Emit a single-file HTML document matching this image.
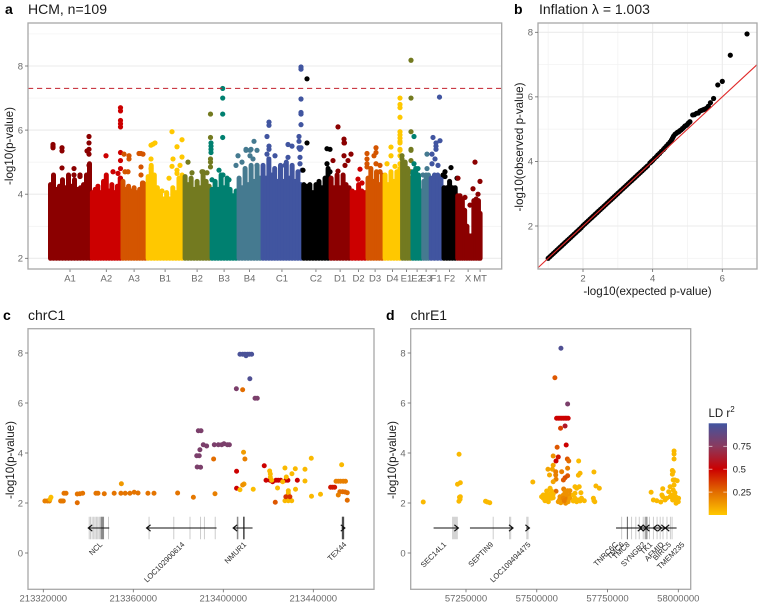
<!DOCTYPE html>
<html lang="en">
<head>
<meta charset="utf-8">
<title>HCM GWAS figure</title>
<style>
html,body{margin:0;padding:0;background:#fff;}
svg{display:block;font-family:"Liberation Sans",Arial,sans-serif;}
.tick-label{font-size:9.5px;fill:#6a6a6a;}
.axis-title{font-size:11.6px;fill:#1a1a1a;}
.panel-title{font-size:14px;fill:#1a1a1a;}
.panel-tag{font-size:14px;font-weight:bold;fill:#000;}
.gene-label{font-size:7.6px;fill:#2a2a2a;}
</style>
</head>
<body>
<svg id="fig" width="760" height="605" viewBox="0 0 760 605" xmlns="http://www.w3.org/2000/svg">
  <defs>
    <linearGradient id="ldGrad" x1="0" y1="1" x2="0" y2="0">
      <stop offset="0" stop-color="#ffc800"/>
      <stop offset="0.25" stop-color="#e26d00"/>
      <stop offset="0.5" stop-color="#cc0000"/>
      <stop offset="0.75" stop-color="#8a3a5e"/>
      <stop offset="1" stop-color="#4155a0"/>
    </linearGradient>
  </defs>
  <rect width="760" height="605" fill="#fff"/>

  <text class="panel-tag" x="5" y="14">a</text>
  <text class="panel-title" x="28" y="14">HCM, n=109</text>
  <text class="panel-tag" x="514" y="14">b</text>
  <text class="panel-title" x="539" y="14">Inflation λ = 1.003</text>
  <text class="panel-tag" x="3" y="320">c</text>
  <text class="panel-title" x="28" y="320">chrC1</text>
  <text class="panel-tag" x="386" y="320">d</text>
  <text class="panel-title" x="410.5" y="320">chrE1</text>

  <g id="panelA"></g>
  <g id="panelB"></g>
  <g id="panelC"></g>
  <g id="panelD"></g>

  <text class="axis-title" text-anchor="middle" transform="translate(13,146) rotate(-90)">-log10(p-value)</text>
  <text class="axis-title" text-anchor="middle" transform="translate(523,147) rotate(-90)">-log10(observed p-value)</text>
  <text class="axis-title" text-anchor="middle" x="647.5" y="295">-log10(expected p-value)</text>
  <text class="axis-title" text-anchor="middle" transform="translate(14,460) rotate(-90)">-log10(p-value)</text>
  <text class="axis-title" text-anchor="middle" transform="translate(396,460) rotate(-90)">-log10(p-value)</text>

  <g>
    <text x="708.5" y="417" font-size="11.5" fill="#1a1a1a">LD r<tspan dy="-5" font-size="8">2</tspan></text>
    <rect x="708.7" y="423.3" width="18.3" height="91.7" fill="url(#ldGrad)"/>
    <g id="legendTicks"></g>
  </g>
</svg>
<script>
// ---------- Panel a data ----------
var chromNames = ["A1","A2","A3","B1","B2","B3","B4","C1","C2","D1","D2","D3","D4","E1","E2","E3","F1","F2","X","MT"];
var chromLengths = [42,30.6,25,37,27,27,24,40.7,27.3,21,16,17,17.7,10.3,11,7,13,14,23,1];
var chromColors = ["#8b0000","#cc0000","#d45500","#ffc800","#737a20","#008070","#457a90","#4155a0","#000000","#8b0000","#cc0000","#d45500","#ffc800","#737a20","#008070","#457a90","#4155a0","#000000","#8b0000","#8b0000"];
var chromSkylines = [
 [4.3,4.6,4.15,4.25,4.45,4.2,4.6,4.25,4.45,4.15,4.2,4.3,4.6,4.95],
 [4.05,4.15,4.25,4.05,4.4,4.6,4.1,4.3,4.05,4.25,4.5],
 [4.4,4.15,4.25,4.1,4.2,4.05,4.15,4.35,4.3],
 [4.55,4.9,4.6,4.2,4.0,3.85,4.05,3.85,4.2,4.05,4.5,4.6],
 [4.55,4.3,4.5,4.15,4.4,4.2,4.7,4.4,4.25],
 [4.15,4.4,4.15,4.6,4.2,4.5,4.15,3.95,4.1],
 [4.5,4.2,4.8,4.3,4.9,4.4,4.9,4.5],
 [4.9,4.5,5.1,4.6,4.8,4.4,4.9,4.4,5.0,4.5,4.9,4.4,4.7,4.3],
 [4.3,4.25,4.3,4.05,4.3,4.4,4.2,4.5,4.8],
 [4.5,4.2,4.6,4.2,4.6,4.3,4.2],
 [4.1,4.05,4.3,4.1,4.05],
 [4.5,4.8,4.4,4.7,4.3,4.6],
 [4.6,4.3,4.7,4.4,4.7,4.8],
 [5.0,5.0,4.8,4.5],
 [4.7,4.8,4.6,4.1],
 [4.4,4.6,4.6],
 [4.5,4.6,4.6,4.5],
 [4.2,4.2,4.4,4.2,4.2],
 [3.95,3.95,3.85,3.5,3.0,2.7,2.7,3.8,3.85,3.8],
 [3.4]
];
var chromOutliers = [
 [[4,5.55],[4,5.45],[4,5.5],[13,5.45],[13,5.35],[13,4.82],[25,4.8],[25,4.6],[31,4.6],[31,4.55],[40,5.8],[40,5.6],[40,5.4],[40,5.25],[40,4.9],[38,5.35]],
 [[57,5.2],[64,4.7],[69,4.65],[71.5,6.7],[71.5,6.6],[71.5,6.3],[71.5,6.2],[71.5,6.1],[71.5,5.3],[71.5,5.05],[71.5,4.8],[71.5,4.5]],
 [[75,5.25],[80,5.2],[80,5.1],[90,5.27],[92,5.27],[94,5.25],[92,4.85],[92,4.6],[76,4.7],[79,4.7],[94,4.35]],
 [[102,5.53],[102,5.1],[102,4.8],[106,5.6],[104,5.56],[123,5.95],[124,5.1],[128,5.48],[123,4.87],[133,5.7],[133,5.16],[131,4.9],[128,4.75],[128,4.65],[120,4.5],[113,4.1]],
 [[139,5.0],[143,4.67],[153,4.7],[158,4.67],[161.5,6.5],[161.5,5.77],[161.5,5.1],[161.5,5.0],[161.5,4.85]],
 [[162,5.6],[162,5.5],[162,5.4],[162,5.3],[173.7,7.3],[173.7,7.0],[173.7,6.5],[173.7,5.77],[170,4.75],[174,4.6],[163,4.45],[180,4.45]],
 [[189,5.2],[187,4.9],[193,5.0],[197,5.4],[197,5.37],[201,5.37],[201,5.2],[205,5.65],[202,5.4],[208,5.37],[208,4.9],[204,5.1]],
 [[220,6.25],[220,6.15],[220,5.5],[220,5.4],[218,5.8],[218,5.25],[226,5.2],[239,5.55],[239,5.15],[243,5.5],[236,4.9],[252,7.97],[252,7.9],[252,6.97],[252,6.55],[252,6.5],[252,6.17],[252,5.45],[250,5.8],[250,5.65],[250,5.45],[251,5.4],[251,5.15],[251,4.95],[253,4.75]],
 [[258,7.6],[258,5.6],[278,5.42],[278,4.95],[281,5.4],[281,4.7],[254,4.75]],
 [[289,6.1],[289,4.72],[295,5.72],[295,5.6],[295.5,5.6],[295,5.2],[284,5.05],[302,5.25],[299,5.05],[296,4.9]],
 [[311,4.78],[309,4.47],[313,4.35]],
 [[327,5.45],[327,5.3],[327,4.95],[318,5.27],[318,5.1],[318,4.95],[318,4.85],[325,5.2],[331,4.9],[331,4.7]],
 [[342,5.47],[342,5.2],[338,4.95],[346,4.87],[351,7.0],[351,6.8],[351,6.7],[351,6.4],[351,5.95],[351,5.85],[351,5.75],[351,5.65],[351,5.6],[351,5.4],[351,5.37],[351,5.2],[351,4.95]],
 [[353,5.2],[353,5.1],[355,4.95],[355,4.75],[362,8.18],[362,7.0],[362,5.95],[362,5.4],[362,5.37],[362,5.05],[362,4.7]],
 [[365,5.8],[365,4.95],[365,4.55],[369,4.8]],
 [[378,5.25],[378,4.8],[374,4.6]],
 [[390.5,7.03],[384,5.77],[391,5.67],[387,5.5],[387,5.4],[387,5.6],[383,5.25],[383,4.95],[386,5.1],[389,4.9]],
 [[402,4.83],[396,4.7],[396,4.55],[408,4.5],[394,4.6]],
 [[409,4.5],[416,3.9],[426,5.0],[424,4.17],[429,4.0],[421,3.66]],
 [[431,4.4]]
];
var manhattanYTicks = [2,4,6,8];
var manhattanYMinor = [3,5,7,9];
var genomeWideThreshold = 7.3;

// ---------- Panel b data ----------
var qqExpected = [1.0,1.05,1.1,1.15,1.2,1.25,1.3,1.35,1.4,1.45,1.5,1.55,1.6,1.65,1.7,1.75,1.8,1.85,1.9,1.95,2.0,2.05,2.1,2.15,2.2,2.25,2.3,2.35,2.4,2.45,2.5,2.55,2.6,2.65,2.7,2.75,2.8,2.85,2.9,2.95,3.0,3.05,3.1,3.15,3.2,3.25,3.3,3.35,3.4,3.45,3.5,3.55,3.6,3.65,3.7,3.75,3.8,3.85,3.92,3.96,4.0,4.05,4.11,4.15,4.2,4.25,4.31,4.35,4.4,4.45,4.5,4.54,4.57,4.6,4.64,4.68,4.71,4.75,4.78,4.82,4.86,4.9,4.93,4.97,5.0,5.03,5.07,5.15,5.2,5.26,5.31,5.36,5.4,5.45,5.5,5.55,5.6,5.66,5.75,5.87,6.0,6.23,6.71];
var qqObserved = [1.0,1.05,1.1,1.15,1.2,1.25,1.3,1.35,1.4,1.45,1.5,1.55,1.6,1.65,1.7,1.75,1.8,1.85,1.9,1.95,2.01,2.06,2.11,2.16,2.21,2.26,2.31,2.36,2.41,2.46,2.51,2.56,2.61,2.66,2.71,2.76,2.81,2.86,2.91,2.96,3.01,3.06,3.11,3.16,3.21,3.26,3.31,3.36,3.41,3.46,3.51,3.56,3.61,3.66,3.71,3.76,3.81,3.86,3.95,3.99,4.03,4.09,4.15,4.2,4.25,4.31,4.37,4.42,4.48,4.54,4.6,4.66,4.72,4.78,4.84,4.87,4.9,4.92,4.95,4.98,5.02,5.06,5.1,5.12,5.15,5.19,5.23,5.44,5.45,5.49,5.5,5.56,5.58,5.6,5.62,5.65,5.71,5.82,5.95,6.37,6.48,7.29,7.95];
var qqXTicks = [2,4,6];
var qqXMinor = [1,3,5,7];
var qqYTicks = [2,4,6,8];
var qqYMinor = [1,3,5,7];
var qqLineDomain = [0.707,7];

// ---------- Panel c data: [position kb, -log10 p, LD r2] ----------
var chrC1Points = [
 [213320.7,2.08,.2],[213321.8,2.08,.2],[213322.7,2.08,.2],[213323,2.15,.05],[213323.4,2.23,.03],
 [213327.7,2.08,.22],[213328.3,2.08,.22],[213328.9,2.08,.22],[213329.2,2.39,.23],[213330.1,2.39,.23],
 [213335.1,2.01,.25],[213335.1,2.36,.23],[213336.3,2.37,.23],[213337.5,2.39,.23],[213343.4,2.39,.23],[213344.3,2.39,.23],
 [213347.1,2.37,.23],[213351.5,2.39,.23],[213354.5,2.39,.23],[213354.7,2.77,.13],[213356.4,2.39,.23],[213358.5,2.39,.23],
 [213360.4,2.43,.23],[213362.1,2.4,.23],[213366.5,2.39,.23],[213369.2,2.39,.23],[213379.7,2.4,.23],[213386.7,2.23,.22],
 [213388.9,4.89,.8],[213390.1,4.89,.8],[213391.1,4.33,.8],[213392.6,4.28,.8],[213389.6,4.13,.8],[213388.2,3.89,.8],[213389.3,3.89,.8],
 [213388.4,3.44,.8],[213389.9,3.43,.8],[213396,4.33,.8],[213397.8,4.33,.8],[213399.3,4.33,.8],[213400.3,4.37,.8],[213401.8,4.33,.8],[213402.7,4.33,.8],
 [213414.1,6.19,.8],[213415.1,6.19,.8],[213405.8,6.57,.8],
 [213408.6,6.53,.25],[213395.7,3.76,.25],[213396.3,2.37,.2],[213409,4.03,.12],[213409.6,3.76,.2],
 [213405.9,3.27,.5],[213405.9,2.59,.5],[213407.4,2.53,.03],[213409.2,2.76,.12],[213408.6,2.72,.15],[213413.3,2.55,.03],
 [213407.4,7.95,.97],[213408.6,7.95,.97],[213409.6,7.95,.97],[213410.7,7.95,.97],[213411.6,7.95,.97],[213412.6,7.95,.97],[213410.1,7.89,.97],[213411.8,6.97,.95],
 [213418.2,3.49,.5],[213419,2.91,.5],[213420.7,2.91,.5],[213421.9,2.85,.5],[213423.4,2.91,.5],[213424.4,2.91,.5],[213425.5,2.91,.5],[213427.8,2.91,.5],[213428.7,2.91,.5],[213432.9,2.91,.5],
 [213420.6,3.28,.04],[213420.9,3.16,.04],[213420.9,3.03,.04],[213421.5,2.91,.04],[213426.4,2.85,.04],[213427.4,3.4,.04],[213428,3.04,.04],[213430.5,3.17,.04],[213432,3.37,.04],
 [213436.3,3.35,.04],[213436.3,2.88,.04],[213439.1,3.79,.04],[213424.1,2.6,.04],[213432.1,2.55,.04],[213428.9,2.49,.04],[213428.9,2.39,.04],[213439.2,2.27,.04],[213443.2,2.35,.04],
 [213427.4,2.09,.04],[213428.9,2.09,.04],[213430.4,2.09,.04],[213428.1,2.12,.04],[213429.6,2.12,.04],
 [213423.1,2.03,.3],[213427.8,2.25,.38],[213429.6,2.25,.38],[213452.6,3.53,.04],
 [213450.1,2.87,.2],[213451.1,2.87,.2],[213452.1,2.87,.2],[213453.3,2.87,.2],[213454.3,2.87,.2],
 [213447.7,2.63,.45],[213448.6,2.63,.45],[213449.5,2.63,.45],
 [213451.8,2.45,.25],[213453,2.45,.25],[213454.1,2.44,.25],[213455.1,2.41,.25],[213451.1,2.32,.2],[213455.1,2.11,.25]
];
var chrC1XTicks = [213320,213360,213400,213440];
var chrC1Genes = [
 {name:"NCL",start:213340,end:213349.3,strand:-1,label:213346.5,exons:[213340.4,213341,213341.7,213342.4,213343,213343.6,213344.2,213344.8,213345.3,213345.6,213345.9,213345.9,213346.2,213346.2,213346.5,213346.5,213346.8,213346.8,213349]},
 {name:"LOC102900614",start:213365.9,end:213397,strand:-1,label:213383,exons:[213367,213378,213385.2,213389.9,213391.6,213396.4]},
 {name:"NMUR1",start:213404.4,end:213413,strand:-1,label:213410.4,exons:[213406.2,213406.5,213406.2,213406.5,213409,213409,213409.3,213409.3,213409,213409.3,213409,213409.3]},
 {name:"TEX44",start:213452.6,end:213454,strand:1,label:213455,exons:[213452.9,213452.9,213452.9,213452.9,213453.2,213453.2,213453.2,213453.2,213453.5,213453.5,213453.5,213453.5]}
];

// ---------- Panel d data: [position kb, -log10 p, LD r2] ----------
var chrE1Points = [
 [57099,2.04,.04],[57225.5,3.95,.04],[57220,2.75,.04],[57230,2.81,.04],[57227,2.23,.04],[57229,2.15,.04],[57225,2.07,.04],[57230,2.25,.04],
 [57319,2.07,.04],[57325,2.04,.04],[57334,2.01,.04],[57486,2.84,.05],
 [57585.4,8.19,.95],[57564,7.01,.3],[57609,5.96,.8],
 [57570,5.39,.5],[57576,5.39,.5],[57582,5.39,.5],[57588,5.39,.5],[57594,5.39,.5],[57600,5.39,.5],[57605,5.39,.5],[57611,5.39,.5],
 [57584,4.99,.35],[57600,5.08,.6],[57604,4.32,.5],[57572,4.23,.3],[57558,3.88,.15],[57576,3.84,.45],[57568,3.68,.5],[57608,3.76,.3],[57613,3.68,.25],
 [57648,3.68,.03],[57558,3.51,.1],[57539.5,3.35,.1],[57555,3.35,.1],[57567,3.25,.2],[57588,3.25,.2],[57609,3.39,.2],[57702,3.24,.04],[57545,3.12,.08],[57567,3.12,.2],
 [57609,3.09,.3],[57600,3.01,.32],[57594,2.92,.3],[57568,2.95,.2],[57558,2.85,.1],[57653,3.19,.05],[57647,3.11,.05],[57709,2.68,.05],[57721,2.59,.05],
 [57635,2.65,.04],[57650,2.65,.04],[57641,2.59,.04],[57595,2.56,.2],[57609,2.49,.15],[57617,2.49,.15],[57568,2.47,.25],[57600,2.45,.15],
 [57547,2.59,.04],[57535,2.48,.04],[57552,2.48,.04],[57523,2.32,.04],[57535,2.35,.04],[57547,2.35,.04],[57558,2.35,.04],[57517,2.25,.04],[57529,2.21,.04],[57541,2.19,.04],[57552,2.19,.04],
 [57529,2.09,.04],[57541,2.05,.04],[57523,2.19,.04],[57558,2.21,.04],
 [57582,2.25,.15],[57580,2.12,.15],[57576,2.05,.12],[57594,2.32,.15],[57605,2.32,.15],[57617,2.32,.15],[57594,2.19,.18],[57605,2.15,.2],[57617,2.19,.12],[57585,2.01,.12],[57602,1.99,.15],[57611,2.05,.12],[57597,2.09,.2],
 [57629,2.32,.04],[57635,2.39,.04],[57656,2.41,.04],[57635,2.19,.04],[57647,2.12,.04],[57658,2.19,.04],[57668,2.09,.04],[57629,2.08,.04],[57641,2.05,.04],[57653,2.08,.04],
 [57700,2.19,.04],[57705,2.05,.04],[57702,2.09,.04],
 [57985,4.08,.04],[57985,3.96,.04],[57985,3.76,.04],[57982,3.25,.04],[57979,3.3,.04],[57979,3.15,.04],[57982,2.92,.04],[57996,2.89,.04],[57988,2.92,.04],
 [57945,2.57,.04],[57904,2.43,.04],[57971,2.65,.04],[57985,2.72,.04],[57982,2.52,.04],[57966,2.45,.04],[57945,2.25,.04],[57942,2.32,.04],[57959,2.19,.04],[57912,2.12,.04],[57924,2.09,.04],[57938,2.04,.04],
 [57953,2.12,.04],[57971,2.25,.04],[57982,2.25,.04],[57991,2.25,.04],[57996,2.15,.04],[57988,2.12,.04],[58000,2.05,.04],[57992,1.99,.04],[57976,2.32,.04],[58001,2.19,.04],[57988,2.41,.04],[57980,2.12,.04]
];
var chrE1XTicks = [57250,57500,57750,58000];
var chrE1Genes = [
 {name:"SEC14L1",start:57135.5,end:57223,strand:1,label:57182,exons:[57203,57207,57211,57215,57219]},
 {name:"SEPTIN9",start:57264,end:57416,strand:1,label:57348,exons:[57346,57404,57408]},
 {name:"LOC109494475",start:57462.6,end:57474,strand:1,label:57480,exons:[57465,57469]},
 {name:"TNRC6C",start:57780.5,end:57871,strand:1,label:57788.7,exons:[57800,57820,57820,57820,57820]},
 {name:"TMC6",start:57871,end:57864,strand:-1,label:57810,exons:[57835,57850]},
 {name:"TMC8",start:57864,end:57888,strand:1,label:57830,exons:[57862,57876]},
 {name:"SYNGR2",start:57890,end:57884,strand:-1,label:57886,exons:[57882,57885,57888,57891,57885,57888]},
 {name:"TK1",start:57912,end:57918,strand:-1,label:57910,exons:[57898,57912]},
 {name:"AFMID",start:57924,end:57941,strand:1,label:57950.8,exons:[57925,57936]},
 {name:"BIRC5",start:57941,end:57954,strand:1,label:57976.6,exons:[57946,57960]},
 {name:"TMEM235",start:57954,end:57980,strand:-1,label:58023.5,exons:[57972,57978]}
];
var chrE1TrackEnds = [57780.5,57994];
var ldStopValues = [0,0.25,0.5,0.75,1];
var ldStopColors = [[255,200,0],[226,109,0],[204,0,0],[138,58,94],[65,85,160]];
var localYTicks = [0,2,4,6,8];
var legendTicks = [0.25,0.5,0.75];

// ---------- helpers ----------
var NS = "http://www.w3.org/2000/svg";
function linear(d, r){ return function(v){ return r[0] + (v - d[0]) * (r[1] - r[0]) / (d[1] - d[0]); }; }
function make(parent, tag, attrs, text){
  var e = document.createElementNS(NS, tag);
  for (var k in attrs) e.setAttribute(k, attrs[k]);
  if (text !== undefined) e.textContent = text;
  parent.appendChild(e);
  return e;
}
function ldColor(v){
  for (var i = 1; i < ldStopValues.length; i++){
    if (v <= ldStopValues[i]){
      var t = (v - ldStopValues[i-1]) / (ldStopValues[i] - ldStopValues[i-1]);
      var a = ldStopColors[i-1], b = ldStopColors[i];
      return "rgb(" + Math.round(a[0]+(b[0]-a[0])*t) + "," + Math.round(a[1]+(b[1]-a[1])*t) + "," + Math.round(a[2]+(b[2]-a[2])*t) + ")";
    }
  }
  return "rgb(65,85,160)";
}
var BORDER = "#a8a8a8", TICK = "#666", GRID = "#ebebeb";

function frame(g, box){
  var f = make(g, "rect", {x:box.l, y:box.t, width:box.r-box.l, height:box.b-box.t, fill:"none", stroke:BORDER, "stroke-width":1.3});
  
  
}
function yAxis(g, box, scale, ticks){
  ticks.forEach(function(v){
    var t = make(g, "line", {x1:box.l-3, x2:box.l, y1:scale(v), y2:scale(v), stroke:TICK, "stroke-width":0.8});
    
    
    var l = make(g, "text", {"class":"tick-label", x:box.l-5, y:scale(v)+3.3, "text-anchor":"end"}, String(v));
    
    
  });
}
function xAxis(g, box, scale, ticks, fmt){
  ticks.forEach(function(v){
    var t = make(g, "line", {x1:scale(v), x2:scale(v), y1:box.b, y2:box.b+3, stroke:TICK, "stroke-width":0.8});
    
    
    var l = make(g, "text", {"class":"tick-label", x:scale(v), y:box.b+12.3, "text-anchor":"middle"}, fmt(v));
    
    
  });
}

// ---------- Panel a ----------
(function(){
  var g = document.getElementById("panelA");
  var box = {l:28, r:501.7, t:23, b:269};
  var x = linear([0,432], [49,481]);
  var y = linear([2,8], [258.3,66]);
  manhattanYMinor.forEach(function(v){
    var m = make(g, "line", {x1:box.l, x2:box.r, y1:y(v), y2:y(v), stroke:"#f1f1f1", "stroke-width":0.7});
    
    
  });
  manhattanYTicks.forEach(function(v){
    var m = make(g, "line", {x1:box.l, x2:box.r, y1:y(v), y2:y(v), stroke:GRID, "stroke-width":1.1});
    
    
  });
  var cum = 0;
  chromNames.forEach(function(name, i){
    var len = chromLengths[i], sky = chromSkylines[i], col = chromColors[i];
    var chr = make(g, "g", {});
    
    
    sky.forEach(function(h, k){
      var px = x(cum + (k + 0.5) / sky.length * len);
      var c = make(chr, "line", {x1:px, x2:px, y1:y(2), y2:y(h), stroke:col, "stroke-width":5, "stroke-linecap":"round"});
      
      
    });
    chromOutliers[i].forEach(function(p){
      var c = make(chr, "circle", {cx:x(p[0]), cy:y(p[1]), r:2.6, fill:col});
      
      
    });
    var mid = cum + len / 2;
    var t = make(g, "line", {x1:x(mid), x2:x(mid), y1:box.b, y2:box.b+3, stroke:TICK, "stroke-width":0.8});
    
    
    var l = make(g, "text", {"class":"tick-label", x:x(mid), y:box.b+12.5, "text-anchor":"middle"}, name);
    
    
    cum += len;
  });
  var th = make(g, "line", {x1:box.l, x2:box.r, y1:y(genomeWideThreshold), y2:y(genomeWideThreshold), stroke:"#c2202c", "stroke-width":1, "stroke-dasharray":"5.2 3.8"});
  
  
  frame(g, box);
  yAxis(g, box, y, manhattanYTicks);
})();

// ---------- Panel b ----------
(function(){
  var g = document.getElementById("panelB");
  var box = {l:538, r:757, t:23, b:269};
  var x = linear([2,6], [583,722.3]);
  var y = linear([2,8], [226,32.3]);
  qqXMinor.forEach(function(v){
    var m = make(g, "line", {x1:x(v), x2:x(v), y1:box.t, y2:box.b, stroke:"#f1f1f1", "stroke-width":0.7});
    
    
  });
  qqYMinor.forEach(function(v){
    var m = make(g, "line", {x1:box.l, x2:box.r, y1:y(v), y2:y(v), stroke:"#f1f1f1", "stroke-width":0.7});
    
    
  });
  qqXTicks.forEach(function(v){
    var m = make(g, "line", {x1:x(v), x2:x(v), y1:box.t, y2:box.b, stroke:GRID, "stroke-width":1.1});
    
    
  });
  qqYTicks.forEach(function(v){
    var m = make(g, "line", {x1:box.l, x2:box.r, y1:y(v), y2:y(v), stroke:GRID, "stroke-width":1.1});
    
    
  });
  qqExpected.forEach(function(v, i){
    var c = make(g, "circle", {cx:x(v), cy:y(qqObserved[i]), r:2.6, fill:"#000"});
    
    
  });
  var ln = make(g, "line", {x1:x(qqLineDomain[0]), y1:y(qqLineDomain[0]), x2:x(qqLineDomain[1]), y2:y(qqLineDomain[1]), stroke:"#e02a2a", "stroke-width":1.1});
  
  
  frame(g, box);
  yAxis(g, box, y, qqYTicks);
  xAxis(g, box, x, qqXTicks, String);
})();

// ---------- Panels c & d ----------
function drawRegion(g, box, x, points, genes, xTicks, trackEnds){
  var y = linear([0,8], [553,353]);
  points.forEach(function(p){
    var c = make(g, "circle", {cx:x(p[0]), cy:y(p[1]), r:2.5, fill:ldColor(p[2])});
    
    
  });
  if (trackEnds){
    var tr = make(g, "line", {x1:x(trackEnds[0]), x2:x(trackEnds[1]), y1:y(1), y2:y(1), stroke:"#111", "stroke-width":1});
    
    
  }
  genes.forEach(function(gene){
    var gg = make(g, "g", {});
    
    
    gene.exons.forEach(function(ex){
      var r = make(gg, "rect", {x:x(ex)-0.45, width:0.9, y:y(1.45), height:y(0.55)-y(1.45), fill:"#000", opacity:0.22});
      
      
    });
    var line = make(gg, "line", {x1:x(gene.start), x2:x(gene.end), y1:y(1), y2:y(1), stroke:"#111", "stroke-width":1});
    
    
    var tip = gene.strand > 0 ? x(Math.max(gene.start, gene.end)) : x(Math.min(gene.start, gene.end));
    var arm = gene.strand > 0 ? -4 : 4;
    var arrow = make(gg, "polyline", {points:(tip+arm)+","+(y(1)-3.2)+" "+tip+","+y(1)+" "+(tip+arm)+","+(y(1)+3.2), fill:"none", stroke:"#111", "stroke-width":1.2});
    
    
    var lx = x(gene.label);
    var t = make(gg, "text", {"class":"gene-label", "text-anchor":"end", transform:"translate("+lx+",545) rotate(-45)"}, gene.name);
    
    
  });
  frame(g, box);
  yAxis(g, box, y, localYTicks);
  xAxis(g, box, x, xTicks, function(v){ return String(v * 1000); });
}
drawRegion(document.getElementById("panelC"), {l:28, r:374, t:328.7, b:589.3},
  linear([213320,213360], [43.3,133.3]), chrC1Points, chrC1Genes, chrC1XTicks, null);
drawRegion(document.getElementById("panelD"), {l:410.7, r:690.7, t:328.7, b:589.3},
  linear([57250,58000], [466,678.3]), chrE1Points, chrE1Genes, chrE1XTicks, chrE1TrackEnds);

// ---------- Legend ----------
(function(){
  var g = document.getElementById("legendTicks");
  var y = linear([0,1], [515,423.3]);
  legendTicks.forEach(function(v){
    var a = make(g, "line", {x1:708.7, x2:712.4, y1:y(v), y2:y(v), stroke:"#fff", "stroke-width":0.6});
    
    
    var b = make(g, "line", {x1:723.3, x2:727, y1:y(v), y2:y(v), stroke:"#fff", "stroke-width":0.6});
    
    
    var l = make(g, "text", {x:732.7, y:y(v)+3.3, "font-size":9.5, fill:"#222"}, String(v));
    
    
  });
})();
</script>
</body>
</html>
